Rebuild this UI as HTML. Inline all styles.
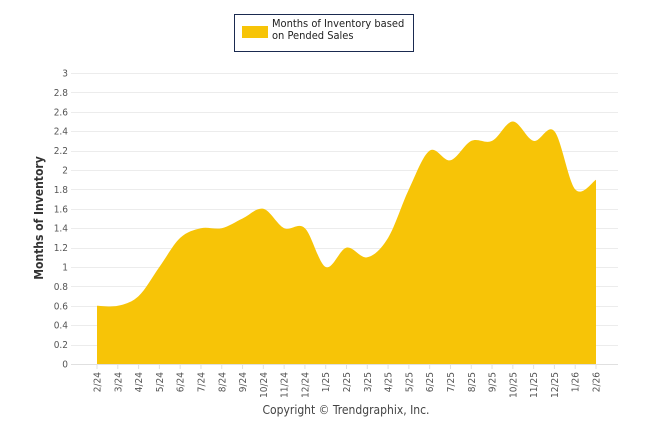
<!DOCTYPE html>
<html><head><meta charset="utf-8"><style>
body{margin:0;background:#fff;}
svg text{font-family:"DejaVu Sans Condensed","Liberation Sans",sans-serif;}
</style></head><body>
<svg width="646" height="434" xmlns="http://www.w3.org/2000/svg">
<g>
<rect x="234.5" y="14.5" width="179" height="37" fill="#fff" stroke="#1a2a50" stroke-width="1"/>
<rect x="242" y="26" width="26" height="12" fill="#f7c407"/>
<text x="272" y="27" font-size="11" fill="#222"><tspan x="272" dy="0">Months of Inventory based</tspan><tspan x="272" dy="12">on Pended Sales</tspan></text>
</g>
<g id="grid"></g>
<g id="yl"></g>
<path id="area" fill="#f7c407"/>
<line x1="71" y1="364.5" x2="618" y2="364.5" stroke="#e0e0e0"/>
<g id="xl"></g>
<text transform="translate(43,218) rotate(-90)" text-anchor="middle" font-size="12" font-weight="bold" fill="#333">Months of Inventory</text>
<text x="346" y="414" text-anchor="middle" font-size="12" fill="#444">Copyright © Trendgraphix, Inc.</text>
</svg>
<script>
const categories=["2/24","3/24","4/24","5/24","6/24","7/24","8/24","9/24","10/24","11/24","12/24","1/25","2/25","3/25","4/25","5/25","6/25","7/25","8/25","9/25","10/25","11/25","12/25","1/26","2/26"];
const values=[0.6,0.6,0.7,1.0,1.3,1.4,1.4,1.5,1.6,1.4,1.4,1.0,1.2,1.1,1.3,1.8,2.2,2.1,2.3,2.3,2.5,2.3,2.4,1.8,1.9];
const yTicks=[0,0.2,0.4,0.6,0.8,1,1.2,1.4,1.6,1.8,2,2.2,2.4,2.6,2.8,3];
const NS="http://www.w3.org/2000/svg";
const y0=364,y3=73,yMax=3;
function ys(v){return y0-(v/yMax)*(y0-y3);}
const xStart=97,xEnd=596;
function xs(i){return xStart+i*(xEnd-xStart)/(categories.length-1);}
const grid=document.getElementById('grid'),yl=document.getElementById('yl'),xl=document.getElementById('xl');
yTicks.forEach(t=>{
 if(t>0){const l=document.createElementNS(NS,'line');
 l.setAttribute('x1',71);l.setAttribute('x2',618);l.setAttribute('y1',Math.round(ys(t))+0.5);l.setAttribute('y2',Math.round(ys(t))+0.5);
 l.setAttribute('stroke','#ececec');
 
 
 grid.appendChild(l);}
 const tx=document.createElementNS(NS,'text');
 tx.setAttribute('x',68);tx.setAttribute('y',ys(t)+3.5);tx.setAttribute('text-anchor','end');tx.setAttribute('font-size','10');tx.setAttribute('fill','#555');
 tx.textContent=String(t);
 
 
 yl.appendChild(tx);
});
categories.forEach((c,i)=>{
 const x=xs(i);
 const tk=document.createElementNS(NS,'line');
 tk.setAttribute('x1',x);tk.setAttribute('x2',x);tk.setAttribute('y1',364);tk.setAttribute('y2',369);tk.setAttribute('stroke','#e0e0e0');
 
 
 xl.appendChild(tk);
 const t=document.createElementNS(NS,'text');
 t.setAttribute('transform','translate('+(x+3.5)+',372) rotate(-90)');
 t.setAttribute('text-anchor','end');t.setAttribute('font-size','10');t.setAttribute('fill','#555');
 t.textContent=c;
 
 
 xl.appendChild(t);
});
const pts=values.map((v,i)=>[xs(i),ys(v)]);
let d='M'+pts[0][0]+','+y0+' L'+pts[0][0]+','+pts[0][1];
const s=1/6;
for(let i=0;i<pts.length-1;i++){
 const p0=pts[Math.max(0,i-1)],p1=pts[i],p2=pts[i+1],p3=pts[Math.min(pts.length-1,i+2)];
 const c1=[p1[0]+(p2[0]-p0[0])*s,p1[1]+(p2[1]-p0[1])*s];
 const c2=[p2[0]-(p3[0]-p1[0])*s,p2[1]-(p3[1]-p1[1])*s];
 d+=' C'+c1[0]+','+c1[1]+' '+c2[0]+','+c2[1]+' '+p2[0]+','+p2[1];
}
d+=' L'+pts[pts.length-1][0]+','+y0+' Z';
document.getElementById('area').setAttribute('d',d);
</script>
</body></html>
